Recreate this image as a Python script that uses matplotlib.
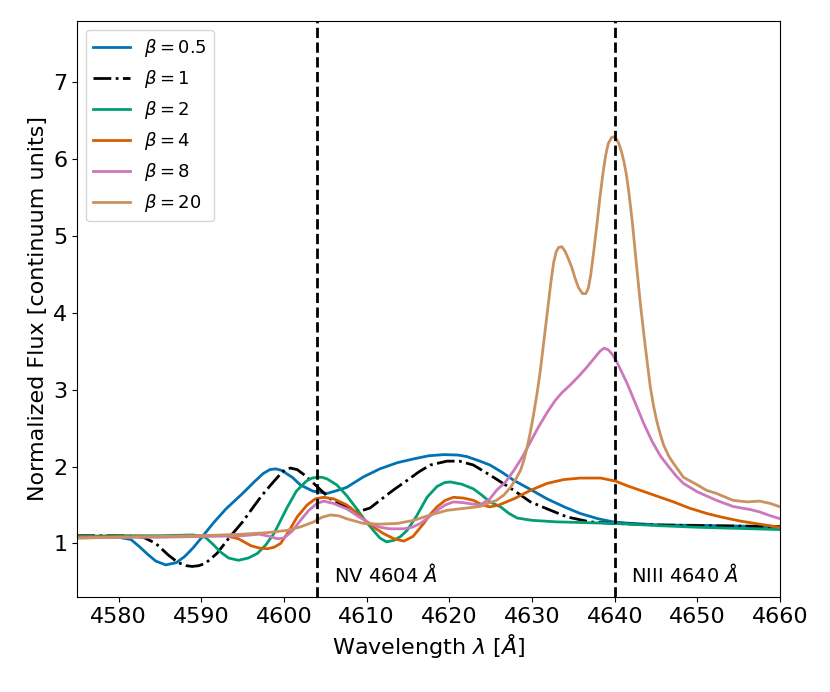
import matplotlib
matplotlib.use('Agg')
import matplotlib.pyplot as plt

# values (wavelength in Angstrom, flux in continuum units)
wl_b05 = [4575, 4578, 4580, 4581.5, 4582.5, 4583.5, 4584.5, 4585.7, 4587, 4588, 4589, 4590, 4591.5,
          4593, 4595, 4596.5, 4597.5, 4598.3, 4599, 4599.7, 4601, 4602, 4603.5, 4605.2, 4606.5,
          4607.6, 4609.6, 4611.6, 4613.7, 4615.7, 4617.5, 4619.3, 4621, 4622.1, 4623.7, 4624.9,
          4626.3, 4627.8, 4630, 4631.8, 4634, 4635.8, 4638, 4639.8, 4642, 4645.5, 4650, 4655, 4660]
fl_b05 = [1.09, 1.09, 1.08, 1.05, 0.96, 0.86, 0.77, 0.72, 0.75, 0.83, 0.94, 1.07, 1.27,
          1.45, 1.65, 1.81, 1.91, 1.96, 1.97, 1.95, 1.86, 1.76, 1.68, 1.65, 1.69,
          1.73, 1.865, 1.97, 2.05, 2.10, 2.14, 2.155, 2.15, 2.13, 2.07, 2.02,
          1.93, 1.82, 1.69, 1.58, 1.47, 1.39, 1.32, 1.28, 1.26, 1.24, 1.235, 1.225, 1.215]

wl_b1 = [4575, 4578, 4581, 4583, 4584.5, 4586, 4587.2, 4588.2, 4588.9, 4589.7, 4590.5, 4591.9, 4593.5,
         4595, 4596, 4597.3, 4598.4, 4599.3, 4599.8, 4600.4, 4600.8, 4601.6, 4602.6, 4603.6, 4605.6,
         4607.6, 4609.2, 4610.4, 4611.6, 4613.3, 4614.9, 4616.3, 4617.7, 4619.7, 4621.2, 4622.9,
         4624.9, 4626.5, 4627.8, 4629.8, 4631.8, 4634.2, 4637, 4639.8, 4645, 4650, 4655, 4660]
fl_b1 = [1.10, 1.10, 1.10, 1.08, 1.00, 0.85, 0.75, 0.71, 0.70, 0.71, 0.74, 0.87, 1.09,
         1.28, 1.43, 1.62, 1.76, 1.87, 1.93, 1.97, 1.98, 1.96, 1.88, 1.78, 1.58,
         1.475, 1.42, 1.46, 1.56, 1.70, 1.82, 1.93, 2.02, 2.07, 2.07, 2.02,
         1.89, 1.78, 1.69, 1.54, 1.45, 1.345, 1.28, 1.26, 1.24, 1.23, 1.225, 1.22]

wl_b2 = [4575, 4580, 4585, 4589, 4590.5, 4591.5, 4592.3, 4593.3, 4594.5, 4595.7, 4596.8, 4597.8,
         4598.8, 4599.6, 4600.4, 4601.5, 4602.7, 4603.4, 4604, 4604.6, 4605.2, 4606.4, 4607.6,
         4608.8, 4609.8, 4610.8, 4611.6, 4612.4, 4613.3, 4614.1, 4614.9, 4616, 4617.3, 4618.5,
         4619.4, 4620.1, 4621.5, 4622.9, 4623.9, 4624.9, 4626.2, 4627.2, 4628.2, 4630, 4633, 4640,
         4645.5, 4650, 4655, 4660]
fl_b2 = [1.09, 1.10, 1.10, 1.11, 1.08, 0.98, 0.89, 0.81, 0.78, 0.81, 0.87, 0.98,
         1.13, 1.30, 1.47, 1.68, 1.81, 1.85, 1.86, 1.86, 1.84, 1.76, 1.62,
         1.45, 1.30, 1.17, 1.07, 1.02, 1.04, 1.09, 1.17, 1.35, 1.60, 1.74,
         1.79, 1.80, 1.77, 1.71, 1.63, 1.54, 1.475, 1.39, 1.33, 1.30, 1.28, 1.26,
         1.23, 1.21, 1.195, 1.18]

wl_b4 = [4575, 4580, 4585, 4590, 4593, 4594.5, 4596, 4597, 4598, 4598.8, 4599.6, 4600.6, 4601.6,
         4602.8, 4603.8, 4604.8, 4606, 4607.6, 4609, 4610, 4611, 4612, 4613.3, 4614.5, 4615.6,
         4616.9, 4617.7, 4618.5, 4619.5, 4620.5, 4621.7, 4622.9, 4624, 4624.9, 4626, 4627.8,
         4629.8, 4631.8, 4633.8, 4635.8, 4638.3, 4640.1, 4641.5, 4643.1, 4645.5, 4647.1, 4649,
         4651.1, 4653, 4655.2, 4657.5, 4660]
fl_b4 = [1.08, 1.09, 1.09, 1.10, 1.10, 1.06, 0.97, 0.94, 0.93, 0.95, 1.00, 1.16, 1.345,
         1.50, 1.58, 1.60, 1.58, 1.50, 1.38, 1.28, 1.20, 1.13, 1.06, 1.03, 1.09,
         1.26, 1.38, 1.475, 1.56, 1.60, 1.59, 1.56, 1.50, 1.475, 1.50, 1.58,
         1.69, 1.78, 1.83, 1.85, 1.85, 1.81, 1.75, 1.69, 1.60, 1.54, 1.46,
         1.39, 1.34, 1.29, 1.25, 1.21]

wl_b8 = [4575, 4580, 4585, 4590, 4595, 4597, 4598.3, 4599.2, 4600, 4601, 4602, 4603, 4604, 4604.8,
         4606, 4607.6, 4609, 4610.4, 4611.6, 4612.8, 4614.5, 4615.5, 4616.5, 4617.5, 4618.5,
         4619.5, 4620.5, 4621.7, 4622.9, 4623.7, 4624.9, 4625.7, 4626.8, 4627.8, 4628.8, 4629.8,
         4630.8, 4631.8, 4632.8, 4633.6, 4634.6, 4635.6, 4636.6, 4637.6, 4638.2, 4638.7, 4639.2,
         4639.7, 4640.2, 4640.7, 4641.5, 4642.5, 4643.5, 4644.5, 4645.5, 4646.5, 4647.4, 4648.3,
         4650, 4652.3, 4654.3, 4656.4, 4657.5, 4658.8, 4660]
fl_b8 = [1.07, 1.08, 1.08, 1.09, 1.10, 1.12, 1.09, 1.06, 1.07, 1.16, 1.30, 1.43, 1.52, 1.55,
         1.52, 1.45, 1.35, 1.26, 1.21, 1.19, 1.19, 1.21, 1.26, 1.34, 1.43,
         1.50, 1.54, 1.53, 1.51, 1.50, 1.58, 1.69, 1.80, 1.95, 2.12, 2.32,
         2.52, 2.70, 2.86, 2.96, 3.06, 3.17, 3.29, 3.42, 3.50, 3.54, 3.52,
         3.46, 3.37, 3.26, 3.08, 2.82, 2.56, 2.33, 2.14, 2.00, 1.88, 1.78,
         1.67, 1.56, 1.48, 1.44, 1.41, 1.36, 1.32]

wl_b20 = [4575, 4580, 4585, 4590, 4595, 4598, 4600.4, 4602, 4603.6, 4604.6, 4605.6, 4606.6, 4607.6,
          4609.6, 4611.6, 4613.7, 4615.7, 4617.7, 4619.7, 4622.1, 4623.7, 4624.9, 4625.7, 4626.6,
          4627.4, 4628.1, 4628.6, 4629, 4629.4, 4629.8, 4630.2, 4630.6, 4631, 4631.5, 4632, 4632.3,
          4632.6, 4632.9, 4633.2, 4633.6, 4634, 4634.4, 4634.8, 4635.2, 4635.6, 4636.1, 4636.5,
          4636.8, 4637.1, 4637.4, 4637.8, 4638.2, 4638.6, 4638.9, 4639.2, 4639.6, 4639.9, 4640.2,
          4640.5, 4640.8, 4641.1, 4641.4, 4641.7, 4642.1, 4642.6, 4643.1, 4643.7, 4644.3, 4644.7,
          4645.1, 4645.5, 4645.9, 4646.5, 4647.1, 4648.3, 4650, 4651.1, 4652.3, 4654.3, 4656,
          4657.5, 4658.8, 4660]
fl_b20 = [1.07, 1.08, 1.09, 1.10, 1.12, 1.14, 1.17, 1.215, 1.28, 1.34, 1.37, 1.36, 1.32,
          1.26, 1.25, 1.26, 1.30, 1.37, 1.43, 1.46, 1.48, 1.53, 1.56, 1.63,
          1.73, 1.85, 1.95, 2.08, 2.25, 2.45, 2.69, 2.95, 3.25, 3.70, 4.15, 4.42,
          4.65, 4.79, 4.85, 4.86, 4.80, 4.70, 4.59, 4.45, 4.33, 4.25, 4.25,
          4.32, 4.50, 4.75, 5.11, 5.50, 5.84, 6.05, 6.20, 6.28, 6.29, 6.26,
          6.20, 6.10, 5.97, 5.80, 5.57, 5.20, 4.65, 4.11, 3.55, 3.03, 2.78,
          2.58, 2.42, 2.28, 2.14, 2.04, 1.86, 1.76, 1.69, 1.65, 1.56, 1.54,
          1.55, 1.52, 1.475]

series = [
    (wl_b05, fl_b05, r'$\beta = 0.5$', '#0173b2', '-'),
    (wl_b1, fl_b1, r'$\beta = 1$', 'black', '-.'),
    (wl_b2, fl_b2, r'$\beta = 2$', '#029e73', '-'),
    (wl_b4, fl_b4, r'$\beta = 4$', '#d55e00', '-'),
    (wl_b8, fl_b8, r'$\beta = 8$', '#cc78bc', '-'),
    (wl_b20, fl_b20, r'$\beta = 20$', '#ca9161', '-'),
]

line_pos = [4604, 4640]
line_names = [r'NV 4604 $\AA$', r'NIII 4640 $\AA$']

fig, ax = plt.subplots(figsize=(8.3, 6.92), dpi=100)
fig.subplots_adjust(left=0.093, right=0.94, bottom=0.137, top=0.970)

for wl, fl, lab, col, ls in series:
    ax.plot(wl, fl, color=col, ls=ls, lw=2, label=lab)

for pos, name in zip(line_pos, line_names):
    ax.axvline(pos, color='black', ls='--', lw=2)
    ax.text(pos + 2, 0.5, name, fontsize=14, va='baseline')

ax.set_xlim(4575, 4660)
ax.set_ylim(0.3, 7.8)
ax.set_xlabel(r'Wavelength $\lambda$ [$\AA$]', fontsize=16)
ax.set_ylabel('Normalized Flux [continuum units]', fontsize=16)
ax.tick_params(labelsize=16)
ax.legend(loc='upper left', fontsize=13)

fig.savefig('out.png', dpi=100)
